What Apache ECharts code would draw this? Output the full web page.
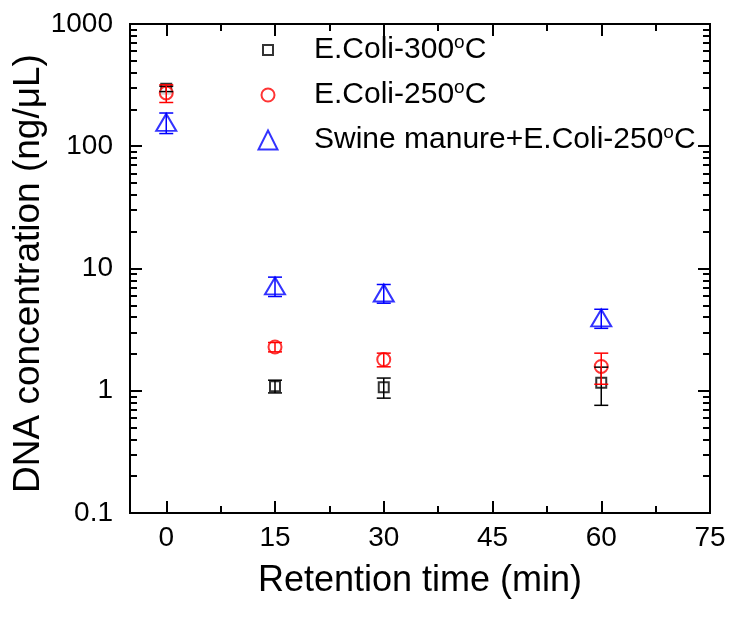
<!DOCTYPE html>
<html>
<head>
<meta charset="utf-8">
<script src="https://cdn.jsdelivr.net/npm/echarts@6/dist/echarts.min.js"></script>
<style>html,body{margin:0;padding:0;background:#fff}#c{width:730px;height:619px}</style>
</head>
<body>
<div id="c"></div>
<script>
// ---- data ----
const times = [0, 15, 30, 60];
const seriesNames = ['E.Coli-300', 'E.Coli-250', 'Swine manure+E.Coli-250'];
const ecoli300 = [295, 1.09, 1.07, 1.16];
const ecoli300Err = [15, 0.13, 0.2, 0.4];
const ecoli250 = [273, 2.28, 1.8, 1.58];
const ecoli250Err = [45, 0.2, 0.23, 0.45];
const swine250 = [157, 7.2, 6.3, 3.94];
const swine250Err = [30, 1.3, 1.1, 0.7];
// ---- tick values ----
const xMajorTicks = [0, 15, 30, 45, 60, 75];
const xMinorTicks = [7.5, 22.5, 37.5, 52.5, 67.5];
const yMajorTicks = [0.1, 1, 10, 100, 1000];
const yMinorTicks = [0.2, 0.3, 0.4, 0.5, 0.6, 0.7, 0.8, 0.9,
  2, 3, 4, 5, 6, 7, 8, 9,
  20, 30, 40, 50, 60, 70, 80, 90,
  200, 300, 400, 500, 600, 700, 800, 900];

const FONT = 'Liberation Sans, Arial, sans-serif';
const colors = ['#000000', '#ff0000', '#0000ff'];
const symbols = ['emptyRect', 'emptyCircle', 'emptyTriangle'];
const symbolSizes = [10, 13, [20, 17]];
const legendSizes = [10, 13, 19];
const values = [ecoli300, ecoli250, swine250];
const errors = [ecoli300Err, ecoli250Err, swine250Err];

const lineStyle = {color: '#000', width: 2};

function xAxisDef(pos, ticks, len, labels) {
  return {
    type: 'value', min: -5, max: 75, position: pos, gridIndex: 0,
    axisLine: {show: true, onZero: false, lineStyle: lineStyle},
    axisTick: {show: true, inside: true, length: len, customValues: ticks, lineStyle: lineStyle},
    axisLabel: labels ? {show: true, customValues: ticks, fontSize: 28, color: '#000', fontFamily: FONT, margin: 11,
      formatter: v => String(v)} : {show: false},
    splitLine: {show: false}, minorTick: {show: false}
  };
}
function yAxisDef(pos, ticks, len, labels) {
  return {
    type: 'log', logBase: 10, min: 0.1, max: 1000, position: pos, gridIndex: 0,
    axisLine: {show: true, onZero: false, lineStyle: lineStyle},
    axisTick: {show: true, inside: true, length: len, customValues: ticks, lineStyle: lineStyle},
    axisLabel: labels ? {show: true, customValues: ticks, fontSize: 28, color: '#000', fontFamily: FONT, margin: 17,
      formatter: v => String(v)} : {show: false},
    splitLine: {show: false}, minorTick: {show: false}
  };
}

const xAxes = [
  xAxisDef('bottom', xMajorTicks, 12, true),
  xAxisDef('bottom', xMinorTicks, 7, false),
  xAxisDef('top', xMajorTicks, 12, false),
  xAxisDef('top', xMinorTicks, 7, false)
];
Object.assign(xAxes[0], {name: 'Retention time (min)', nameLocation: 'middle', nameGap: 50,
  nameTextStyle: {fontSize: 36, color: '#000', fontFamily: FONT}});
const yAxes = [
  yAxisDef('left', yMajorTicks, 12, true),
  yAxisDef('left', yMinorTicks, 7, false),
  yAxisDef('right', yMajorTicks, 12, false),
  yAxisDef('right', yMinorTicks, 7, false)
];
Object.assign(yAxes[0], {name: 'DNA concentration (ng/\u03bcL)', nameLocation: 'middle', nameGap: 83, nameRotate: 90,
  nameMoveOverlap: false,
  nameTextStyle: {fontSize: 37, color: '#000', fontFamily: FONT, padding: [0, 10, 0, 0]}});

const series = [];
values.forEach((vals, i) => {
  series.push({
    name: seriesNames[i], type: 'scatter', xAxisIndex: 0, yAxisIndex: 0,
    symbol: symbols[i], symbolSize: symbolSizes[i],
    itemStyle: {color: colors[i], borderColor: colors[i], borderWidth: 1.5},
    emphasis: {disabled: true}, z: 2,
    data: times.map((t, j) => [t, vals[j]])
  });
});
values.forEach((vals, i) => {
  series.push({
    name: seriesNames[i] + ' err', type: 'custom', xAxisIndex: 0, yAxisIndex: 0, z: 3, silent: true,
    encode: {x: 0, y: [1, 2]},
    data: times.map((t, j) => [t, vals[j] - errors[i][j], vals[j] + errors[i][j]]),
    renderItem: function (params, api) {
      const x = api.value(0);
      const lo = api.coord([x, api.value(1)]);
      const hi = api.coord([x, api.value(2)]);
      const hw = 7;
      const st = {stroke: colors[i], lineWidth: 1.5};
      return {type: 'group', children: [
        {type: 'line', shape: {x1: lo[0], y1: lo[1], x2: hi[0], y2: hi[1]}, style: st},
        {type: 'line', shape: {x1: hi[0] - hw, y1: hi[1], x2: hi[0] + hw, y2: hi[1]}, style: st},
        {type: 'line', shape: {x1: lo[0] - hw, y1: lo[1], x2: lo[0] + hw, y2: lo[1]}, style: st}
      ]};
    }
  });
});

const legendCentersY = [50, 95, 140];
const iconCenterX = 267;
const textStartX = 313;
const legends = seriesNames.map((n, i) => {
  const s = legendSizes[i];
  return {
    data: [n], orient: 'vertical', padding: 0,
    left: iconCenterX - s / 2, top: legendCentersY[i] - 17,
    itemWidth: s, itemHeight: s, selectedMode: false, symbolKeepAspect: true,
    formatter: name => '{sp|}' + name + '{s|o}C',
    textStyle: {fontSize: 30, color: '#000', fontFamily: FONT, lineHeight: 34,
      rich: {
        sp: {width: textStartX - (iconCenterX + s / 2) - 5, fontSize: 30, lineHeight: 34},
        s: {fontSize: 19, color: '#000', fontFamily: FONT, verticalAlign: 'top', lineHeight: 20}
      }}
  };
});

const chart = echarts.init(document.getElementById('c'), null, {renderer: 'canvas'});
chart.setOption({
  backgroundColor: '#fff',
  animation: false,
  grid: {left: 130, top: 24, right: 20, bottom: 106, containLabel: false, outerBoundsMode: 'none'},
  legend: legends,
  xAxis: xAxes,
  yAxis: yAxes,
  series: series
});
</script>
</body>
</html>
